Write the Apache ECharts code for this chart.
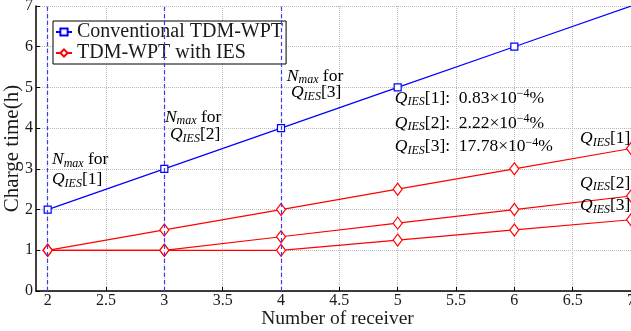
<!DOCTYPE html>
<html><head><meta charset="utf-8">
<script src="https://cdn.jsdelivr.net/npm/echarts@6/dist/echarts.min.js"></script>
<style>html,body{margin:0;padding:0;background:#fff}#c{width:631px;height:331px}</style>
</head><body><div id="c"></div>
<script>
// ---- data ----
const receivers = [2, 3, 4, 5, 6, 7];
const conventional = [2, 3, 4, 5, 6, 7];
const ies1 = [1, 1.5, 2, 2.5, 3, 3.5];
const ies2 = [1, 1, 1.333, 1.667, 2, 2.333];
const ies3 = [1, 1, 1, 1.25, 1.5, 1.75];
const xTicks = [2, 2.5, 3, 3.5, 4, 4.5, 5, 5.5, 6, 6.5, 7];
const nmaxLines = [2, 3, 4];
const seriesNames = ['Conventional TDM-WPT', 'TDM-WPT with IES'];

const F = 'Liberation Serif';
const TC = '#1a1a1a';
const rich = {
  m: {fontFamily: F, fontStyle: 'italic', fontSize: 17.5, lineHeight: 19, color: TC},
  r: {fontFamily: F, fontSize: 17.5, lineHeight: 19, color: TC},
  s: {fontFamily: F, fontStyle: 'italic', fontSize: 12, lineHeight: 13, padding: [8, 0, 0, 0], color: TC},
  p: {fontFamily: F, fontSize: 12, lineHeight: 13, padding: [0, 0, 8, 0], color: TC}
};
const Q = n => '{m|Q}{s|IES}{r|[' + n + ']}';
const NMAX = '{m|N}{s|max}{r| for}';

// annotations: [x, y (data units, top-left or top-right), text, align]
const annotations = [
  [2.037, 3.46, NMAX, 'left'],
  [2.037, 2.97, Q(1), 'left'],
  [3.005, 4.50, NMAX, 'left'],
  [3.048, 4.07, Q(2), 'left'],
  [4.05, 5.51, NMAX, 'left'],
  [4.085, 5.11, Q(3), 'left'],
  [4.976, 4.97, Q(1) + '{r|:  0.83×10}{p|−4}{r|%}', 'left'],
  [4.976, 4.36, Q(2) + '{r|:  2.22×10}{p|−4}{r|%}', 'left'],
  [4.976, 3.78, Q(3) + '{r|:  17.78×10}{p|−4}{r|%}', 'left'],
  [6.995, 3.98, Q(1), 'right'],
  [6.995, 2.88, Q(2), 'right'],
  [6.995, 2.33, Q(3), 'right']
];

const chart = echarts.init(document.getElementById('c'), null, {renderer: 'canvas'});
const pts = arr => receivers.map((x, i) => [x, arr[i]]);
const redSeries = arr => ({
  name: seriesNames[1], type: 'line', data: pts(arr),
  symbol: 'diamond', symbolSize: [9, 12],
  itemStyle: {color: '#fff', borderColor: '#ff0000', borderWidth: 1.2},
  lineStyle: {color: '#ff0000', width: 1.2}, color: '#ff0000', z: 3
});

chart.setOption({
  animation: false,
  backgroundColor: '#fff',
  grid: {left: 36, right: 0, top: 6, bottom: 40, containLabel: false, outerBoundsMode: 'none'},
  legend: {
    orient: 'vertical', left: 53, top: 21, itemWidth: 16, itemHeight: 9, itemGap: 1,
    padding: [1, 3, 1, 2], borderColor: '#000', borderWidth: 1, backgroundColor: '#fff',
    textStyle: {fontFamily: F, fontSize: 20, lineHeight: 20, color: TC},
    data: seriesNames
  },
  xAxis: {
    type: 'value', min: 1.9, max: 7, splitNumber: 10,
    name: 'Number of receiver', nameLocation: 'middle', nameGap: 18, nameMoveOverlap: false,
    nameTextStyle: {fontFamily: F, fontSize: 19.5, color: TC, padding: [0, 0, 0, 8]},
    axisLine: {onZero: false, lineStyle: {color: '#000', width: 1.5}},
    axisTick: {inside: true, length: 4, customValues: xTicks, lineStyle: {color: '#000'}},
    axisLabel: {customValues: xTicks, fontFamily: F, fontSize: 16, color: TC, margin: 2},
    splitLine: {show: true, lineStyle: {type: 'dotted', color: '#b8b8b8'}}
  },
  yAxis: {
    type: 'value', min: 0, max: 7, interval: 1,
    name: 'Charge time(h)', nameLocation: 'middle', nameGap: 13, nameRotate: 90, nameMoveOverlap: false,
    nameTextStyle: {fontFamily: F, fontSize: 21, color: TC},
    axisLine: {show: true, lineStyle: {color: '#000', width: 1.5}},
    axisTick: {show: true, inside: true, length: 4, lineStyle: {color: '#000'}},
    axisLabel: {fontFamily: F, fontSize: 16, color: TC, margin: 3},
    splitLine: {show: true, lineStyle: {type: 'dotted', color: '#b8b8b8'}}
  },
  series: [
    {
      name: seriesNames[0], type: 'line',
      data: receivers.map((x, i) => i === receivers.length - 1 ? {value: [x, conventional[i]], symbol: 'none'} : [x, conventional[i]]),
      symbol: 'rect', symbolSize: 7,
      itemStyle: {color: '#fff', borderColor: '#0000ff', borderWidth: 1.2},
      lineStyle: {color: '#0000ff', width: 1.2}, color: '#0000ff', z: 4,
      markLine: {
        silent: true, symbol: 'none', label: {show: false},
        lineStyle: {color: '#3a3aff', type: [4, 3], width: 1.2},
        data: nmaxLines.map(v => ({xAxis: v}))
      }
    },
    redSeries(ies1), redSeries(ies2), redSeries(ies3)
  ]
});

const graphics = annotations.map(a => {
  const p = chart.convertToPixel({gridIndex: 0}, [a[0], a[1]]);
  return {
    type: 'text', x: p[0], y: p[1], z: 10,
    style: {text: a[2], rich: rich, align: a[3], verticalAlign: 'top'}
  };
});
chart.setOption({graphic: graphics});
</script></body></html>
